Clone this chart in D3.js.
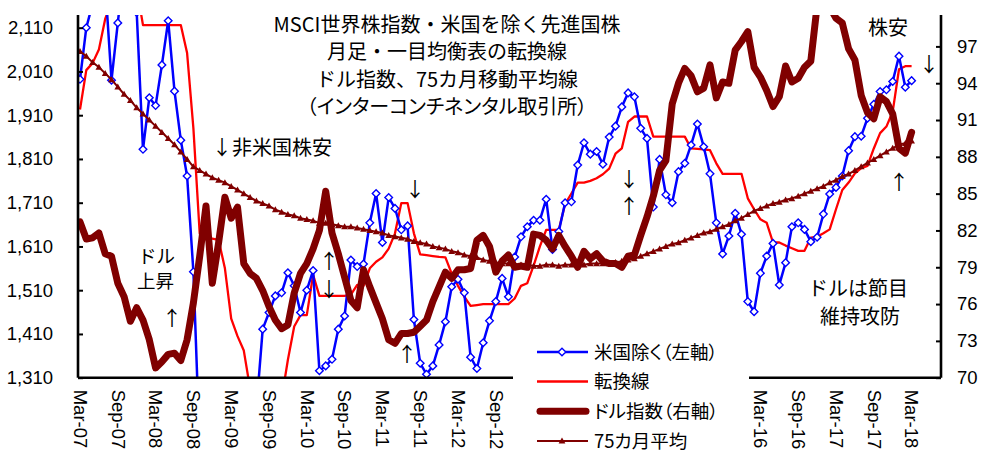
<!DOCTYPE html>
<html><head><meta charset="utf-8">
<script src="https://cdn.jsdelivr.net/npm/d3@7"></script>
<style>
html,body{margin:0;padding:0;background:#fff;}
svg{display:block;}
.lat{font-family:"Liberation Sans",Arial,sans-serif;}
.jp{font-family:"Noto Sans CJK JP","Noto Sans CJK SC",sans-serif;}
</style></head>
<body>
<svg id="c" width="984" height="454"></svg>
<script>
// ---- data (monthly, Mar-07 .. Mar-18) ----
const tickLabels = ["Mar-07","Sep-07","Mar-08","Sep-08","Mar-09","Sep-09","Mar-10","Sep-10","Mar-11","Sep-11","Mar-12","Sep-12","Mar-13","Sep-13","Mar-14","Sep-14","Mar-15","Sep-15","Mar-16","Sep-16","Mar-17","Sep-17","Mar-18"];
const leftTicks = [1310,1410,1510,1610,1710,1810,1910,2010,2110];
const rightTicks = [70,73,76,79,82,85,88,91,94,97];

const msciExUS = [1992,2110,2165,2230,2210,1990,2121,2250,2180,2145,
1832,1950,1932,2025,2126,1965,1853,1771,1552,1150,
1100,1130,1050,960,1000,1080,1180,1170,1240,1421,
1459,1497,1504,1550,1520,1459,1510,1555,1326,1337,
1352,1421,1451,1579,1564,1570,1664,1731,1619,1722,
1697,1648,1657,1443,1343,1318,1337,1385,1438,1518,
1535,1504,1357,1331,1390,1440,1484,1537,1495,1586,
1632,1655,1670,1670,1718,1603,1644,1710,1712,1796,
1847,1821,1827,1798,1860,1885,1929,1961,1952,1880,
1857,1700,1809,1728,1710,1781,1800,1842,1890,1838,
1776,1664,1593,1634,1686,1638,1484,1461,1549,1588,
1617,1522,1573,1655,1664,1649,1621,1631,1684,1730,
1745,1771,1829,1861,1862,1903,1935,1964,1968,1987,
2045,1974,1989];

const tenkan = [1923,2013,2029,2060,2130,2170,2175,2200,2200,2200,
2116,2116,2116,2116,2116,2116,2116,2052,1880,1640,
1628,1628,1625,1560,1445,1405,1372,1285,1250,1250,
1250,1250,1262,1351,1427,1453,1453,1545,1497,1497,
1497,1497,1497,1500,1522,1520,1560,1575,1585,1605,
1640,1709,1709,1640,1592,1590,1588,1586,1585,1548,
1520,1495,1474,1476,1478,1478,1478,1478,1478,1491,
1520,1526,1566,1610,1648,1648,1648,1707,1731,1756,
1756,1760,1766,1775,1788,1822,1834,1895,1907,1907,
1907,1861,1861,1861,1861,1861,1861,1834,1833,1832,
1830,1800,1776,1776,1776,1776,1720,1695,1672,1664,
1619,1619,1612,1606,1600,1600,1630,1632,1640,1649,
1695,1739,1756,1777,1789,1794,1834,1869,1884,1918,
2015,2022,2022];

const dollarIdx = [82.7,81.3,81.4,81.8,80.1,79.9,77.7,76.6,74.6,75.7,
74.7,73.1,70.8,71.3,71.9,72.0,71.4,73.1,76.1,79.9,
84.0,77.7,81.0,84.7,83.0,83.9,79.3,78.5,78.1,77.1,
75.8,74.7,74.0,74.3,76.9,78.5,79.3,80.5,82.0,85.2,
81.8,80.1,78.2,76.3,75.7,78.8,77.4,76.1,74.8,73.1,
72.8,73.6,73.6,73.7,74.2,74.7,76.2,77.4,78.6,78.1,
78.8,78.8,78.9,81.2,81.6,80.7,78.6,79.5,80.0,79.0,
79.1,79.0,81.7,81.6,81.2,80.5,81.6,80.7,79.9,79.0,
80.3,79.7,80.1,79.5,79.3,79.3,79.0,79.9,80.0,81.6,
83.1,84.8,86.9,87.7,92.3,94.0,95.2,94.6,93.3,93.6,
95.5,92.8,94.1,94.0,96.7,97.4,98.2,95.3,94.5,93.4,
92.1,92.9,95.4,94.1,94.4,95.3,95.8,100.3,100.8,100.2,
99.3,98.9,96.8,95.9,93.0,91.6,91.1,92.9,92.5,91.5,
88.7,88.3,90.0];

const ma75 = [96.6,96.2,95.7,95.3,94.8,94.3,93.7,93.1,92.6,92.0,
91.5,91.0,90.5,90.0,89.5,89.0,88.4,87.8,87.2,86.9,
86.6,86.3,86.1,85.9,85.6,85.3,85.0,84.7,84.4,84.2,
84.0,83.7,83.5,83.3,83.2,83.0,82.9,82.8,82.6,82.6,
82.5,82.4,82.3,82.3,82.2,82.1,82.0,81.9,81.8,81.6,
81.5,81.4,81.3,81.1,81.0,80.9,80.7,80.6,80.5,80.3,
80.2,80.0,79.9,79.8,79.6,79.5,79.4,79.3,79.3,79.2,
79.2,79.2,79.1,79.1,79.2,79.2,79.1,79.2,79.2,79.2,
79.2,79.3,79.3,79.3,79.3,79.4,79.5,79.6,79.7,79.9,
80.1,80.3,80.5,80.7,80.9,81.0,81.2,81.4,81.6,81.8,
81.9,82.1,82.3,82.5,82.8,83.0,83.3,83.6,83.8,84.0,
84.2,84.3,84.5,84.6,84.8,85.0,85.2,85.4,85.6,85.9,
86.1,86.4,86.6,86.9,87.2,87.5,87.8,88.1,88.4,88.7,
89.0,89.1,89.3];

const legendItems = ["米国除く（左軸）","転換線","ドル指数（右軸）","75カ月平均"];
const titleLines = ["MSCI世界株指数・米国を除く先進国株","月足・一目均衡表の転換線","ドル指数、75カ月移動平均線","（インターコンチネンタル取引所）"];

// ---- layout ----
const svg = d3.select("#c");
const L = 78, R = 941, T = 15, B = 377.7;
const x = d3.scaleLinear().domain([0, 132]).range([80, 911.6]);
const yL = d3.scaleLinear().domain([1310, 2110]).range([B, 27.7]);
const yR = d3.scaleLinear().domain([70, 97]).range([B, 46.4]);
const BLUE = "#0000FF", RED = "#FF0000", MAROON = "#800000";

svg.append("defs").append("clipPath").attr("id","plot")
  .append("rect").attr("x",L).attr("y",T).attr("width",R-L).attr("height",B-T);

const g = svg.append("g").attr("clip-path","url(#plot)");
const idx = d3.range(msciExUS.length);

const lineL = arr => d3.line().x(i => x(i)).y(i => yL(arr[i]));
const lineR = arr => d3.line().x(i => x(i)).y(i => yR(arr[i]));

// primary series
g.append("path").attr("d", lineL(tenkan)(idx)).attr("fill","none")
  .attr("stroke",RED).attr("stroke-width",2.3).attr("stroke-linejoin","round");
g.append("path").attr("d", lineL(msciExUS)(idx)).attr("fill","none")
  .attr("stroke",BLUE).attr("stroke-width",2.5).attr("stroke-linejoin","round");
const diamond = "M0,-3.8L3.8,0L0,3.8L-3.8,0Z";
g.selectAll(".dm").data(idx).join("path").attr("class","dm")
  .attr("d",diamond).attr("transform", i => `translate(${x(i)},${yL(msciExUS[i])})`)
  .attr("fill","#fff").attr("stroke",BLUE).attr("stroke-width",1.4);

// secondary series
g.append("path").attr("d", lineR(ma75)(idx)).attr("fill","none")
  .attr("stroke",MAROON).attr("stroke-width",2);
const tri = "M0,-3.4L3.4,2.6L-3.4,2.6Z";
g.selectAll(".tr").data(idx).join("path").attr("class","tr")
  .attr("d",tri).attr("transform", i => `translate(${x(i)},${yR(ma75[i])})`)
  .attr("fill",MAROON);
g.append("path").attr("d", lineR(dollarIdx)(idx)).attr("fill","none")
  .attr("stroke",MAROON).attr("stroke-width",7).attr("stroke-linejoin","round").attr("stroke-linecap","round");

// ---- axes ----
const ax = svg.append("g").attr("class","lat");
const left = ax.append("g").attr("transform",`translate(${L},0)`)
  .call(d3.axisLeft(yL).tickValues(leftTicks).tickFormat(d3.format(",")).tickSizeInner(-5).tickSizeOuter(0).tickPadding(25));
left.select(".domain").attr("d",`M0,${T}V${B}`);
const right = ax.append("g").attr("transform",`translate(${R},0)`)
  .call(d3.axisRight(yR).tickValues(rightTicks).tickSizeInner(-5).tickSizeOuter(0).tickPadding(16));
right.select(".domain").attr("d",`M0,${T}V${B}`);
const bottom = ax.append("g").attr("transform",`translate(0,${B})`)
  .call(d3.axisBottom(x).tickValues(tickLabels.map((d,k)=>k*6)).tickFormat((d,k)=>tickLabels[k]).tickSize(0).tickSizeOuter(0));
bottom.select(".domain").attr("d",`M${L},0H${R}`);
bottom.selectAll("text").attr("transform","rotate(90)").attr("x",12).attr("y",0).attr("dy","0.36em").style("text-anchor","start");
[left,right,bottom].forEach(a=>{
  a.selectAll(".domain").attr("stroke","#000").attr("stroke-width",2.6);
  a.selectAll(".tick line").attr("stroke","#000").attr("stroke-width",2);
  a.selectAll("text").attr("font-size",18.5).attr("fill","#000").attr("font-family","Liberation Sans, Arial, sans-serif");
});

// ---- legend ----
const lg = svg.append("g");
lg.append("rect").attr("x",513).attr("y",334).attr("width",236).attr("height",120).attr("fill","#fff");
const ly = [352, 381.5, 411.3, 441];
lg.append("line").attr("x1",537).attr("x2",588).attr("y1",ly[0]).attr("y2",ly[0]).attr("stroke",BLUE).attr("stroke-width",2.5);
lg.append("path").attr("d",diamond).attr("transform",`translate(562,${ly[0]})`).attr("fill","#fff").attr("stroke",BLUE).attr("stroke-width",1.4);
lg.append("line").attr("x1",537).attr("x2",588).attr("y1",ly[1]).attr("y2",ly[1]).attr("stroke",RED).attr("stroke-width",2.3);
lg.append("line").attr("x1",540).attr("x2",586).attr("y1",ly[2]).attr("y2",ly[2]).attr("stroke",MAROON).attr("stroke-width",7).attr("stroke-linecap","round");
lg.append("line").attr("x1",537).attr("x2",588).attr("y1",ly[3]).attr("y2",ly[3]).attr("stroke",MAROON).attr("stroke-width",2);
lg.append("path").attr("d",tri).attr("transform",`translate(562,${ly[3]})`).attr("fill",MAROON);
lg.selectAll("text.lt").data(legendItems).join("text").attr("class","lt jp")
  .attr("x",594).attr("y",(d,k)=>ly[k]).attr("dy","0.36em").attr("font-size",18.5)
  .style("font-feature-settings","'palt'").attr("fill","#000").text(d=>d);

// ---- title & annotations ----
svg.selectAll("text.tt").data(titleLines).join("text").attr("class","tt jp")
  .attr("x",447).attr("y",(d,k)=>24.5+k*27.4).attr("dy","0.36em").attr("text-anchor","middle")
  .attr("font-size",20).attr("fill","#000")
  .style("font-feature-settings",(d,k)=> k===3 ? "'palt'" : "normal").text(d=>d);

// annotations: multi-line notes are single texts with tspans
const notes = [
  {lines:["↓非米国株安"], x:212, y:148, a:"start", lh:0, fs:20},
  {lines:["ドル","上昇"], x:138, y:256, a:"start", lh:25, fs:18.5},
  {lines:["↑"], x:172, y:319, a:"middle", lh:0, fs:20},
  {lines:["↑","↓"], x:329, y:262, a:"middle", lh:27.5, fs:20},
  {lines:["↓"], x:415, y:190, a:"middle", lh:0, fs:20},
  {lines:["↑"], x:407, y:355, a:"middle", lh:0, fs:20},
  {lines:["↓","↑"], x:629, y:179.5, a:"middle", lh:27.5, fs:20},
  {lines:["株安"], x:888, y:28, a:"middle", lh:0, fs:20},
  {lines:["↓"], x:929, y:65, a:"middle", lh:0, fs:20},
  {lines:["↑"], x:899, y:183, a:"middle", lh:0, fs:20},
  {lines:["ドルは節目","維持攻防"], x:858, y:289, a:"middle", lh:28, fs:20}
];
const nt = svg.selectAll("text.nt").data(notes).join("text").attr("class","nt jp")
  .attr("x",d=>d.x).attr("y",d=>d.y).attr("text-anchor",d=>d.a)
  .attr("font-size",d=>d.fs).attr("fill","#000");
nt.each(function(d){
  const t = d3.select(this);
  d.lines.forEach((s,k)=>{
    t.append("tspan").attr("x", d.x + (d.lines.length>1 && d.a==="start" ? -k : (d.lines.length>1 && k===1 && d.lh===28 ? 2 : 0)))
      .attr("y", d.y + k*d.lh).attr("dy","0.36em").text(s);
  });
});
</script>
</body></html>
